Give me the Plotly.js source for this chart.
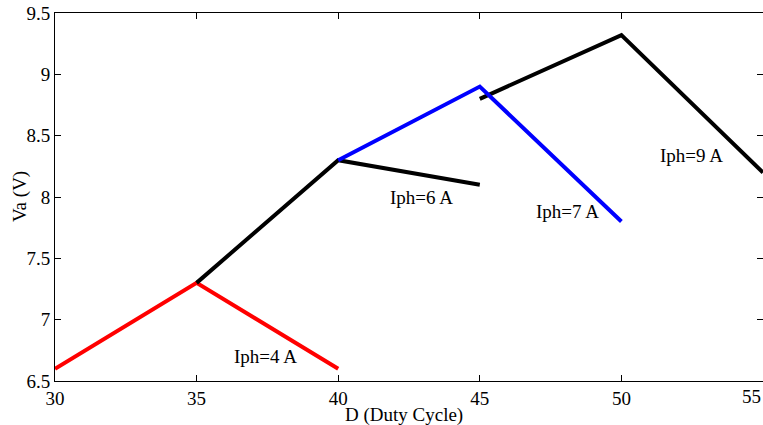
<!DOCTYPE html>
<html>
<head>
<meta charset="utf-8">
<script src="https://cdn.plot.ly/plotly-3.0.1.min.js"></script>
<style>html,body{margin:0;padding:0;background:#fff;}#chart{width:763px;height:425px;}</style>
</head>
<body>
<div id="chart"></div>
<script>
// Duty cycle (%) and output voltage Va (V) for each photocurrent
const iph4_D = [30, 35, 40];
const iph4_Va = [6.6, 7.3, 6.6];
const iph6_D = [35, 40, 45];
const iph6_Va = [7.3, 8.3, 8.1];
const iph7_D = [40, 45, 50];
const iph7_Va = [8.3, 8.9, 7.8];
const iph9_D = [45, 50, 55];
const iph9_Va = [8.8, 9.32, 8.2];

const labelText = ["Iph=4 A", "Iph=6 A", "Iph=7 A", "Iph=9 A"];
const labelD = [37.42, 42.93, 48.09, 52.47];
const labelVa = [6.70, 8.00, 7.88, 8.34];

const xTicks = [30, 35, 40, 45, 50, 55];
const yTicks = [6.5, 7, 7.5, 8, 8.5, 9, 9.5];
const xTitle = "D (Duty Cycle)";
const yTitle = "Va (V)";

const serif = "Liberation Serif, Times New Roman, serif";
const fnt = {family: serif, size: 19, color: "#000"};

const traces = [
  {x: iph4_D, y: iph4_Va, color: "#ff0000"},
  {x: iph9_D, y: iph9_Va, color: "#000000"},
  {x: iph6_D, y: iph6_Va, color: "#000000"},
  {x: iph7_D, y: iph7_Va, color: "#0000ff"}
].map(t => ({
  x: t.x, y: t.y, type: "scatter", mode: "lines",
  line: {color: t.color, width: 4},
  hoverinfo: "skip", showlegend: false, cliponaxis: true
}));

const annotations = labelText.map((t, i) => ({
  x: labelD[i], y: labelVa[i], xref: "x", yref: "y",
  text: t, showarrow: false, font: fnt
}));
// last x tick label, kept inside the picture (it sits on the right edge)
const lastX = xTicks[xTicks.length - 1];
annotations.push({
  x: lastX, xref: "x", xanchor: "right", y: 0, yref: "paper", yanchor: "top",
  yshift: -3, text: String(lastX), showarrow: false, font: fnt
});
// axis titles
annotations.push({
  x: 0.493, xref: "paper", xanchor: "center", y: 0, yref: "paper", yanchor: "middle",
  yshift: -34, text: xTitle, showarrow: false, font: fnt
});
annotations.push({
  x: 0, xref: "paper", xanchor: "center", xshift: -35, y: 0.5, yref: "paper", yanchor: "middle",
  textangle: -90, text: yTitle, showarrow: false, font: fnt
});

const axisCommon = {
  showline: true, linecolor: "#000", linewidth: 1, mirror: "ticks",
  ticks: "inside", ticklen: 6, tickcolor: "#000", tickwidth: 1,
  showgrid: false, zeroline: false,
  tickfont: fnt
};

const layout = {
  width: 763, height: 425,
  margin: {l: 55, r: 0, t: 13, b: 44},
  paper_bgcolor: "#fff", plot_bgcolor: "#fff",
  showlegend: false,
  xaxis: Object.assign({}, axisCommon, {
    range: [30, 55], tickvals: xTicks,
    ticktext: xTicks.map(v => v === lastX ? "" : String(v))
  }),
  yaxis: Object.assign({}, axisCommon, {
    range: [6.5, 9.5], tickvals: yTicks, ticktext: yTicks.map(String)
  }),
  annotations: annotations
};

Plotly.newPlot("chart", traces, layout, {displayModeBar: false, staticPlot: true});
</script>
</body>
</html>
